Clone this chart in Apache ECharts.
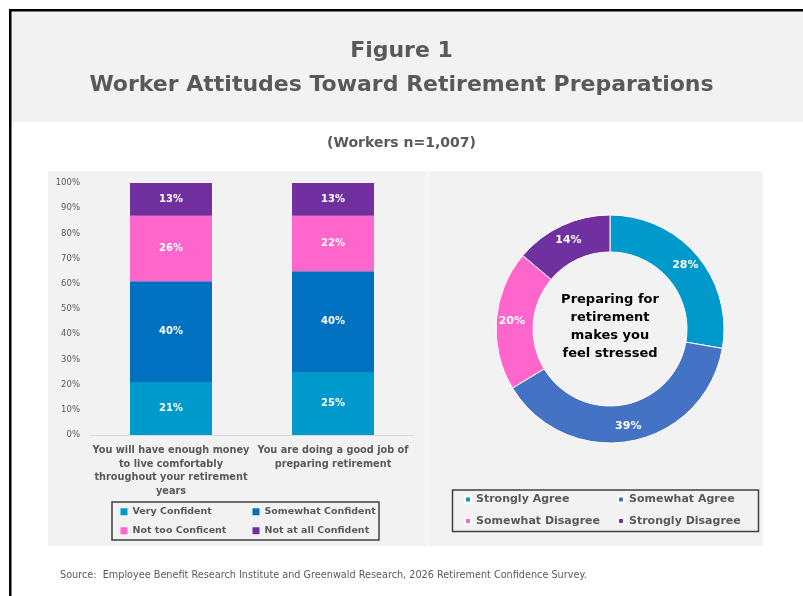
<!DOCTYPE html>
<html>
<head>
<meta charset="utf-8">
<script src="https://cdn.jsdelivr.net/npm/echarts@6/dist/echarts.min.js"></script>
<style>
  html, body { margin: 0; padding: 0; background: #ffffff; }
  #chart { width: 803px; height: 596px; }
</style>
</head>
<body>
<div id="chart"></div>
<script>
// Stacked bar: confidence questions
const barCategories = [
  'You will have enough money\nto live comfortably\nthroughout your retirement\nyears',
  'You are doing a good job of\npreparing retirement'
];
const barSeriesNames = ['Very Confident', 'Somewhat Confident', 'Not too Conficent', 'Not at all Confident'];
const veryConfident = [21, 25];
const somewhatConfident = [40, 40];
const notTooConfident = [26, 22];
const notAtAllConfident = [13, 13];
const barColors = ['#0099CC', '#0070C0', '#FF66CC', '#7030A0'];

// Donut: feeling stressed
const donutNames = ['Strongly Agree', 'Somewhat Agree', 'Somewhat Disagree', 'Strongly Disagree'];
const donutValues = [28, 39, 20, 14];
const donutColors = ['#0099CC', '#4472C4', '#FF66CC', '#7030A0'];

const yTicks = { min: 0, max: 100, interval: 10 };

const FONT = 'DejaVu Sans';
const GREY = '#595959';

const chart = echarts.init(document.getElementById('chart'), null, { renderer: 'canvas' });

const barValues = [veryConfident, somewhatConfident, notTooConfident, notAtAllConfident];

const barSeries = barSeriesNames.map((name, i) => ({
  name: name,
  type: 'bar',
  stack: 'total',
  barWidth: '50.6%',
  data: barValues[i],
  itemStyle: { color: barColors[i] },
  label: {
    show: true,
    position: 'inside',
    formatter: '{c}%',
    color: '#ffffff',
    fontFamily: FONT,
    fontWeight: 'bold',
    fontSize: 10
  },
  emphasis: { disabled: true }
}));

const legendText = (w, size) => ({
  color: GREY, fontFamily: FONT, fontWeight: 'bold', fontSize: size, width: w, lineHeight: size + 4
});

const option = {
  animation: false,
  backgroundColor: '#ffffff',
  graphic: [
    // header band
    { type: 'rect', shape: { x: 11, y: 11, width: 792, height: 111 }, style: { fill: '#F2F2F2' }, z: 0 },
    // frame lines
    { type: 'rect', shape: { x: 9, y: 9, width: 794, height: 2.5 }, style: { fill: '#000000' }, z: 1 },
    { type: 'rect', shape: { x: 9, y: 9, width: 2.5, height: 587 }, style: { fill: '#000000' }, z: 1 },
    // panel backgrounds
    { type: 'rect', shape: { x: 48, y: 171, width: 379, height: 375 }, style: { fill: '#F2F2F2' }, z: -10 },
    { type: 'rect', shape: { x: 428, y: 171, width: 335, height: 375 }, style: { fill: '#F2F2F2' }, z: -10 },
    // legend boxes
    { type: 'rect', shape: { x: 112, y: 502, width: 267, height: 38 },
      style: { fill: 'none', stroke: '#404040', lineWidth: 1.5 }, z: 5 },
    { type: 'rect', shape: { x: 452.5, y: 490, width: 306, height: 41.5 },
      style: { fill: 'none', stroke: '#404040', lineWidth: 1.5 }, z: 5 },
    // donut centre caption
    { type: 'text', x: 610, y: 327, z: 10,
      style: {
        text: 'Preparing for\nretirement\nmakes you\nfeel stressed',
        fill: '#000000', font: 'bold 13px ' + FONT, lineHeight: 18,
        align: 'center', verticalAlign: 'middle'
      } },
    // source note
    { type: 'text', x: 60, y: 575, z: 10,
      style: {
        text: 'Source:  Employee Benefit Research Institute and Greenwald Research, 2026 Retirement Confidence Survey.',
        fill: GREY, font: '9.7px ' + FONT, verticalAlign: 'middle'
      } }
  ],
  title: [
    { text: 'Figure 1', left: 'center', top: 35,
      textStyle: { color: GREY, fontFamily: FONT, fontWeight: 'bold', fontSize: 22 } },
    { text: 'Worker Attitudes Toward Retirement Preparations', left: 'center', top: 69,
      textStyle: { color: GREY, fontFamily: FONT, fontWeight: 'bold', fontSize: 22 } },
    { text: '(Workers n=1,007)', left: 'center', top: 131,
      textStyle: { color: GREY, fontFamily: FONT, fontWeight: 'bold', fontSize: 14 } }
  ],
  legend: [
    { data: barSeriesNames.slice(0, 2), left: 120.5, top: 505, padding: 0,
      itemWidth: 7, itemHeight: 7, itemGap: 10, icon: 'rect', selectedMode: false,
      textStyle: legendText(110, 9.5) },
    { data: barSeriesNames.slice(2, 4), left: 120.5, top: 524, padding: 0,
      itemWidth: 7, itemHeight: 7, itemGap: 10, icon: 'rect', selectedMode: false,
      textStyle: legendText(110, 9.5) },
    { data: donutNames.slice(0, 2), left: 464, top: 492, padding: 0,
      itemWidth: 6, itemHeight: 6, itemGap: 10, icon: 'rect', selectedMode: false,
      textStyle: legendText(131, 11) },
    { data: donutNames.slice(2, 4), left: 464, top: 513.5, padding: 0,
      itemWidth: 6, itemHeight: 6, itemGap: 10, icon: 'rect', selectedMode: false,
      textStyle: legendText(131, 11) }
  ],
  grid: { left: 90, top: 183, width: 324, height: 252, containLabel: false },
  xAxis: {
    type: 'category',
    data: barCategories,
    axisLine: { lineStyle: { color: '#D9D9D9', width: 1 } },
    axisTick: { show: false },
    axisLabel: {
      interval: 0, color: GREY, fontFamily: FONT, fontWeight: 'bold', fontSize: 9.75,
      lineHeight: 13.5, margin: 9
    }
  },
  yAxis: {
    type: 'value',
    min: yTicks.min, max: yTicks.max, interval: yTicks.interval,
    axisLine: { show: false },
    axisTick: { show: false },
    splitLine: { show: false },
    axisLabel: { formatter: '{value}%', color: GREY, fontFamily: FONT, fontSize: 8.5, margin: 10 }
  },
  series: barSeries.concat([{
    type: 'pie',
    name: 'stress',
    center: [610, 329],
    radius: [77, 114],
    startAngle: 90,
    clockwise: true,
    avoidLabelOverlap: false,
    data: donutNames.map((n, i) => ({ name: n, value: donutValues[i], itemStyle: { color: donutColors[i] } })),
    itemStyle: { borderColor: '#ffffff', borderWidth: 1 },
    label: {
      show: true, position: 'inside', formatter: '{c}%',
      color: '#ffffff', fontFamily: FONT, fontWeight: 'bold', fontSize: 11
    },
    labelLine: { show: false },
    emphasis: { disabled: true }
  }])
};

chart.setOption(option);
</script>
</body>
</html>
